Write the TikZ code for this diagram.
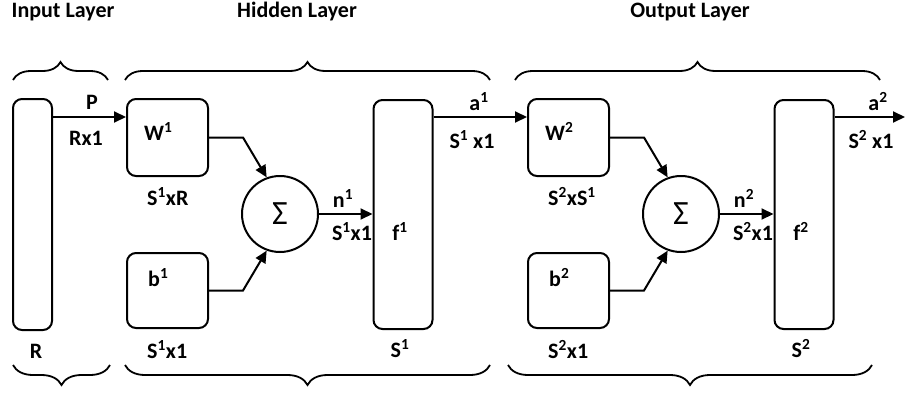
\documentclass[tikz,border=0pt]{standalone}
\usepackage{fontspec}
\setmainfont{Carlito}
\usetikzlibrary{arrows.meta,decorations.pathreplacing}
\tikzset{
  blk/.style={draw,line width=2pt,rounded corners=9pt,inner sep=0pt},
  sumnode/.style={draw,circle,line width=2pt,minimum size=76pt,inner sep=0pt,
    font=\fontsize{34}{34}\selectfont\mdseries},
  link/.style={line width=2pt,-{Triangle[length=12pt,width=11pt]}},
  lbl/.style={anchor=base,inner sep=0pt},
  grp/.style={decorate,decoration={brace,amplitude=18pt},line width=1.8pt},
}
\newcommand{\sx}[1]{\textsuperscript{#1}}

\begin{document}
\begin{tikzpicture}[x=1pt,y=1pt,font=\fontsize{22}{24}\selectfont\bfseries]
  \useasboundingbox (0,0) rectangle (905,392);
  % titles
  \node[lbl] (tin) at (63,374) {Input Layer};
  \node[lbl] (thid) at (297,374) {Hidden Layer};
  \node[lbl] (tout) at (690,374) {Output Layer};

  % input vector
  \node[blk,minimum width=39pt,minimum height=231pt] (inR) at (32.5,177.5) {};
  \node[lbl] (lR) at (36,34) {R};

  % hidden and output layer
  \foreach \i/\dx/\wsz in {1/0/S\sx{1}xR,2/401/S\sx{2}xS\sx{1}} {
    \node[blk,minimum width=81pt,minimum height=77pt] (W\i) at (167.5+\dx,254.5) {};
    \node[blk,minimum width=81pt,minimum height=75pt] (b\i) at (167.5+\dx,101.5) {};
    \node[sumnode] (sum\i) at (280+\dx,178) {Σ\hspace{14pt}};
    \node[blk,minimum width=59pt,minimum height=229pt] (f\i) at (403+\dx,177.5) {};

    \node[lbl,anchor=base west] (tW\i) at (144+\dx,252) {W\sx{\i}};
    \node[lbl,anchor=base west] (tb\i) at (148+\dx,106) {b\sx{\i}};
    \node[lbl,anchor=base west] (lW\i) at (147+\dx,187) {\wsz};
    \node[lbl,anchor=base west] (lb\i) at (147+\dx,34) {S\sx{\i}x1};
    \node[lbl] (tn\i) at (343+\dx,185) {n\sx{\i}};
    \node[lbl] (ln\i) at (352+\dx,152) {S\sx{\i}x1};
    \node[lbl] (tf\i) at (400+\dx,152) {f\sx{\i}};
    \node[lbl] (lf\i) at (400+\dx,35) {S\sx{\i}};

    \draw[link] (W\i.east) -- ++(34,0) -- (sum\i.110);
    \draw[link] (b\i.east) -- ++(34,0) -- (sum\i.250);
    \draw[link] (sum\i.east) -- (sum\i.east -| f\i.west);
  }

  % signals between the layers
  \draw[link] ([yshift=-19pt]inR.north east) -- ([yshift=-19pt]inR.north east -| W1.west);
  \node[lbl] (tP) at (92,283) {P};
  \node[lbl] (lP) at (86,247) {Rx1};
  \draw[link] ([yshift=-18pt]f1.north east) -- ([yshift=-18pt]f1.north east -| W2.west);
  \node[lbl] (ta1) at (479,282) {a\sx{1}};
  \node[lbl] (la1) at (472,244) {S\sx{1} x1};
  \coordinate (aout) at (905,274);
  \draw[link] ([yshift=-18pt]f2.north east) -- ([yshift=-18pt]f2.north east -| aout);
  \node[lbl] (ta2) at (878,282) {a\sx{2}};
  \node[lbl] (la2) at (871,244) {S\sx{2} x1};

  % braces
  \draw[grp] (13,312) -- (108,312);
  \draw[grp] (125,312) -- (490,312);
  \draw[grp] (515,312) -- (880,312);
  \draw[grp,decoration={amplitude=20pt}] (110,27) -- (13,27);
  \draw[grp,decoration={amplitude=20pt}] (490,27) -- (125,27);
  \draw[grp,decoration={amplitude=20pt}] (872,27) -- (508,27);
\end{tikzpicture}
\end{document}
